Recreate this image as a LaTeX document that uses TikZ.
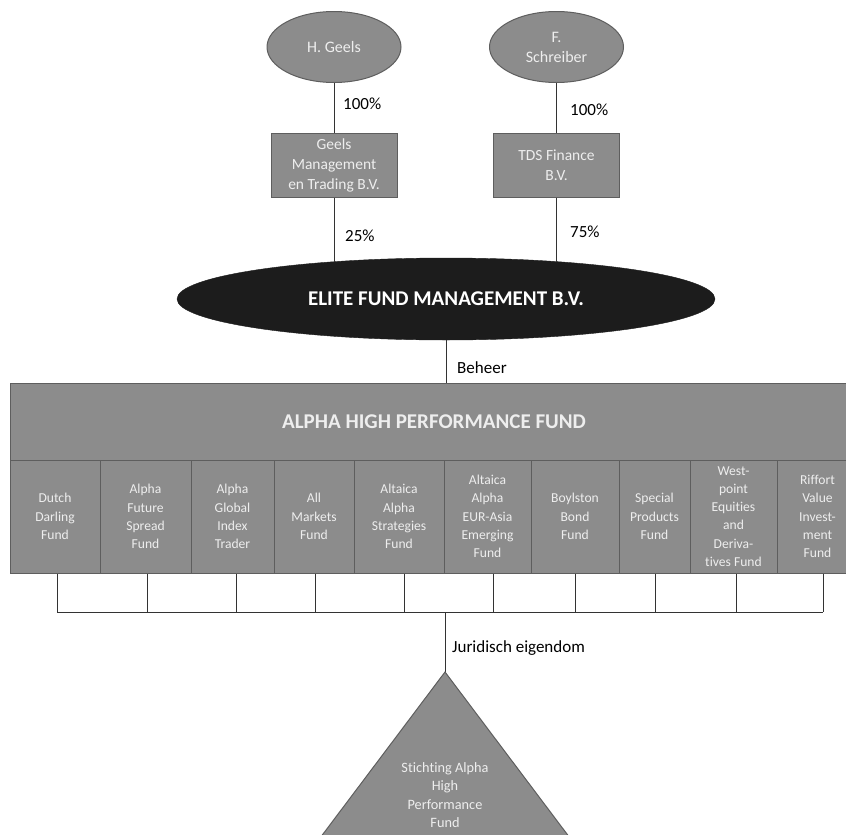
\documentclass[tikz,border=0pt]{standalone}
\usepackage{fontspec}
\setmainfont{Carlito}[Ligatures={NoCommon}]
\usetikzlibrary{shapes.geometric}
\definecolor{boxgray}{HTML}{8C8C8C}
\definecolor{edgegray}{HTML}{5E5E5E}
\definecolor{txtlight}{HTML}{EEEEEE}
\definecolor{darkfill}{HTML}{1C1C1C}
\tikzset{
  person/.style={ellipse, draw=edgegray, fill=boxgray, text=txtlight, font=\fontsize{16}{20}\selectfont, align=center, minimum width=134, minimum height=71, inner sep=0, line width=1pt},
  company/.style={rectangle, draw=edgegray, fill=boxgray, text=txtlight, font=\fontsize{15.5}{20}\selectfont, align=center, minimum width=126, minimum height=64, inner sep=0, line width=1pt},
  pct/.style={font=\fontsize{17}{20}\selectfont, anchor=west, inner sep=0},
  fundcell/.style={rectangle, draw=edgegray, fill=boxgray, text=txtlight, font=\fontsize{13.6}{18.3}\selectfont, align=center, minimum height=113, inner sep=0, line width=1pt},
  link/.style={draw=black!80, line width=0.8pt}
}
\begin{document}
\begin{tikzpicture}[x=1pt,y=-1pt]
\useasboundingbox (0,0) rectangle (846,835);
% persons
\node[person] (hg) at (334,47) {H. Geels};
\node[person] (fs) at (556.5,47) {F.\\Schreiber};
% companies
\node[company] (gm) at (334,165) {Geels\\Management\\en Trading B.V.};
\node[company] (tds) at (556.5,165) {TDS Finance\\B.V.};
% elite
\node[ellipse, fill=darkfill, draw=darkfill, minimum width=538, minimum height=82, inner sep=0, text=white, font=\bfseries\fontsize{21}{24}\selectfont] (efm) at (446,299) {ELITE FUND MANAGEMENT B.V.};
% links top
\draw[link] (hg.south) -- (hg.south |- gm.north);
\draw[link] (fs.south) -- (fs.south |- tds.north);
\draw[link, shorten >=-4pt] (gm.south) -- (gm.south |- efm.north);
\draw[link, shorten >=-4pt] (tds.south) -- (tds.south |- efm.north);
\node[pct] (p1) at (343,104) {100\%};
\node[pct] (p2) at (570,110) {100\%};
\node[pct] (p3) at (345,236) {25\%};
\node[pct] (p4) at (570,232) {75\%};
% header
\node[rectangle, draw=edgegray, fill=boxgray, text=txtlight, line width=1pt, minimum width=848, minimum height=77, inner sep=0, font=\bfseries\fontsize{21}{24}\selectfont] (ahpf) at (434,421.5) {ALPHA HIGH PERFORMANCE FUND};
\draw[link] (efm.south) -- (efm.south |- ahpf.north);
\node[pct] (beh) at (457,368) {Beheer};
% cells
\node[fundcell, minimum width=90] (c1) at (55,516.5) {Dutch\\Darling\\Fund};
\node[fundcell, minimum width=91] (c2) at (145.5,516.5) {Alpha\\Future\\Spread\\Fund};
\node[fundcell, minimum width=83] (c3) at (232.5,516.5) {Alpha\\Global\\Index\\Trader};
\node[fundcell, minimum width=80] (c4) at (314,516.5) {All\\Markets\\Fund};
\node[fundcell, minimum width=90] (c5) at (399,516.5) {Altaica\\Alpha\\Strategies\\Fund};
\node[fundcell, minimum width=87] (c6) at (487.5,516.5) {Altaica\\Alpha\\EUR-Asia\\Emerging\\Fund};
\node[fundcell, minimum width=88] (c7) at (575,516.5) {Boylston\\Bond\\Fund};
\node[fundcell, minimum width=71] (c8) at (654.5,516.5) {Special\\Products\\Fund};
\node[fundcell, minimum width=87] (c9) at (733.5,516.5) {West-\\point\\Equities\\and\\Deriva-\\tives Fund};
\node[fundcell, minimum width=81] (c10) at (817.5,516.5) {Riffort\\Value\\Invest-\\ment\\Fund};
% bus
\coordinate (busy) at (0,612);
\foreach \i/\x in {1/57,2/147,3/236,4/315,5/404,6/493,7/575,8/655,9/736,10/823} {
  \coordinate (tk\i) at (\x,0);
  \draw[link] (c\i.south -| tk\i) -- (busy -| tk\i);
}
\draw[link] (busy -| tk1) -- (busy -| tk10);
\coordinate (busmid) at (445,612);
\coordinate (apex) at (445,672);
\draw[link] (busmid) -- (apex);
\node[pct] (jur) at (452,648) {Juridisch eigendom};
% triangle
\draw[draw=edgegray, fill=boxgray, line width=1pt] (apex) -- (311,850) -- (579,850) -- cycle;
\node[text=txtlight, align=center, inner sep=0, font=\fontsize{14.3}{18.3}\selectfont] (sahpf) at (445,795) {Stichting Alpha\\High\\Performance\\Fund};
\end{tikzpicture}
\end{document}
